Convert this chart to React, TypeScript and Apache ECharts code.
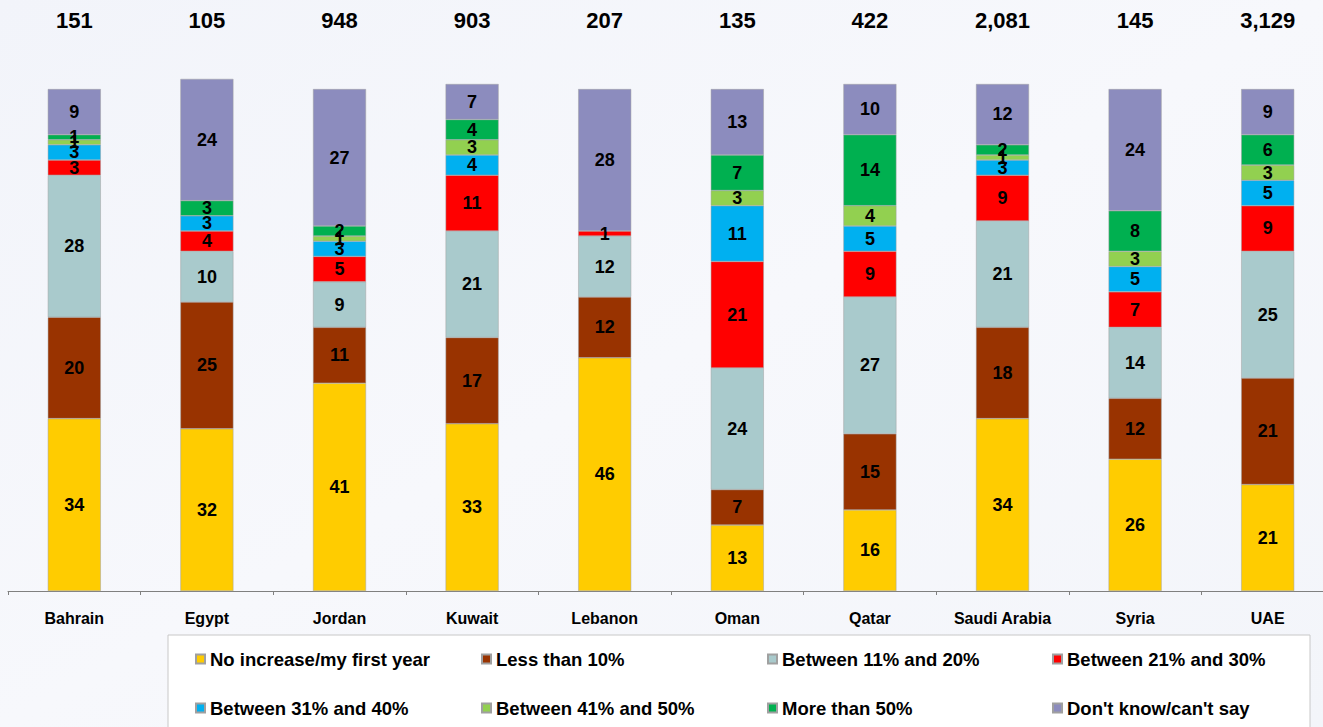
import React, { useEffect, useRef } from "react";
import * as echarts from "echarts";

const countries = ["Bahrain", "Egypt", "Jordan", "Kuwait", "Lebanon", "Oman", "Qatar", "Saudi Arabia", "Syria", "UAE"];
const totals = ["151", "105", "948", "903", "207", "135", "422", "2,081", "145", "3,129"];

const seriesNames = [
  "No increase/my first year",
  "Less than 10%",
  "Between 11% and 20%",
  "Between 21% and 30%",
  "Between 31% and 40%",
  "Between 41% and 50%",
  "More than 50%",
  "Don't know/can't say",
];

const noIncrease = [34, 32, 41, 33, 46, 13, 16, 34, 26, 21];
const lessThan10 = [20, 25, 11, 17, 12, 7, 15, 18, 12, 21];
const between11and20 = [28, 10, 9, 21, 12, 24, 27, 21, 14, 25];
const between21and30 = [3, 4, 5, 11, 1, 21, 9, 9, 7, 9];
const between31and40 = [3, 3, 3, 4, null, 11, 5, 3, 5, 5];
const between41and50 = [1, null, 1, 3, null, 3, 4, 1, 3, 3];
const moreThan50 = [1, 3, 2, 4, null, 7, 14, 2, 8, 6];
const dontKnow = [9, 24, 27, 7, 28, 13, 10, 12, 24, 9];

const seriesData = [noIncrease, lessThan10, between11and20, between21and30, between31and40, between41and50, moreThan50, dontKnow];
const colors = ["#FFCC00", "#993300", "#A9CACC", "#FF0000", "#00B0F0", "#92D050", "#00B050", "#8C8CBE"];

const FONT = "'Liberation Sans', Arial, sans-serif";

export default function App() {
  const ref = useRef<HTMLDivElement>(null);
  useEffect(() => {
    document.body.style.margin = "0";
    const chart = echarts.init(ref.current!, null, { renderer: "svg" });
    const legendCols = [195, 481, 767, 1052];
    const legendRows = [649, 698];
    const legends = seriesNames.map((name, i) => ({
      data: [name],
      left: legendCols[i % 4],
      top: legendRows[Math.floor(i / 4)],
      padding: 0,
      itemWidth: 9,
      itemHeight: 9,
      itemGap: 4,
      icon: "rect",
      selectedMode: false,
      textStyle: { fontFamily: FONT, fontWeight: "bold", fontSize: 18.5, color: "#000", lineHeight: 20 },
    }));
    chart.setOption({
      animation: false,
      backgroundColor: {
        type: "linear", x: 0, y: 0, x2: 1, y2: 1,
        colorStops: [
          { offset: 0, color: "#F2F4FA" },
          { offset: 0.5, color: "#F7F8FC" },
          { offset: 1, color: "#F3F5FA" },
        ],
      },
      graphic: [
        {
          type: "rect",
          shape: { x: 168, y: 635, width: 1142, height: 100 },
          style: { fill: "#FFFFFF", stroke: "#C8C8C8", lineWidth: 1 },
          z: -1,
        },
      ],
      legend: legends,
      grid: { left: 8, top: 84, width: 1326, height: 507, containLabel: false, outerBoundsMode: "none" },
      xAxis: [
        {
          type: "category",
          data: countries,
          position: "bottom",
          axisLine: { lineStyle: { color: "#808080", width: 1 } },
          axisTick: { show: true, length: 4, lineStyle: { color: "#808080" } },
          axisLabel: { fontFamily: FONT, fontWeight: "bold", fontSize: 16, color: "#000", margin: 19 },
        },
        {
          type: "category",
          data: totals,
          position: "top",
          axisLine: { show: false },
          axisTick: { show: false },
          axisLabel: { fontFamily: FONT, fontWeight: "bold", fontSize: 22, color: "#000", margin: 53 },
        },
      ],
      yAxis: { type: "value", min: 0, max: 100, show: false, splitLine: { show: false } },
      series: seriesNames.map((name, i) => ({
        name,
        type: "bar",
        stack: "total",
        data: seriesData[i],
        barWidth: 53,
        clip: false,
        itemStyle: { color: colors[i], borderColor: "#A0A0A0", borderWidth: 0.5 },
        label: {
          show: true,
          position: "inside",
          fontFamily: FONT,
          fontWeight: "bold",
          fontSize: 18,
          color: "#000",
        },
      })),
    });
    return () => chart.dispose();
  }, []);
  return <div ref={ref} style={{ width: 1323, height: 727 }} />;
}
